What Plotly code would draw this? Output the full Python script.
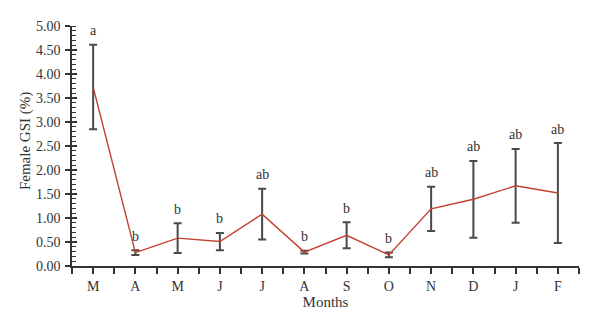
import plotly.graph_objects as go

# Monthly female gonadosomatic index (mean ± error) with significance groups
months = ["M", "A", "M", "J", "J", "A", "S", "O", "N", "D", "J", "F"]
gsi_mean = [3.73, 0.28, 0.58, 0.51, 1.08, 0.29, 0.64, 0.23, 1.19, 1.39, 1.67, 1.52]
gsi_err = [0.88, 0.05, 0.31, 0.18, 0.53, 0.03, 0.27, 0.05, 0.46, 0.80, 0.77, 1.04]
groups = ["a", "b", "b", "b", "ab", "b", "b", "b", "ab", "ab", "ab", "ab"]

x_pos = list(range(len(months)))
serif = "Liberation Serif"
ink = "#333333"

fig = go.Figure()

# error bars drawn on their own so they sit in dark grey
fig.add_trace(go.Scatter(
    x=x_pos, y=gsi_mean, mode="markers",
    marker=dict(size=1, color="rgba(0,0,0,0)"),
    error_y=dict(type="data", array=gsi_err, visible=True,
                 color="#4a4a4a", thickness=2, width=4),
    showlegend=False, hoverinfo="skip", cliponaxis=False,
))

# mean line
fig.add_trace(go.Scatter(
    x=x_pos, y=gsi_mean, mode="lines",
    line=dict(color="#c2412f", width=1.4),
    showlegend=False, cliponaxis=False,
))

# group letters above the upper whisker
for xi, m, e, g in zip(x_pos, gsi_mean, gsi_err, groups):
    fig.add_annotation(x=xi, y=m + e, text=g, showarrow=False,
                       yanchor="middle", yshift=14,
                       font=dict(family=serif, size=14, color=ink))

# y-axis title placed as rotated text left of the tick labels
fig.add_annotation(xref="paper", yref="paper", x=-0.093, y=0.52,
                   text="Female GSI (%)", textangle=-90, showarrow=False,
                   xanchor="center", yanchor="middle",
                   font=dict(family=serif, size=15, color=ink))

fig.update_layout(
    width=600, height=324,
    margin=dict(l=71.5, r=21, t=26, b=58),
    paper_bgcolor="white", plot_bgcolor="white",
    font=dict(family=serif, size=14, color=ink),
    xaxis=dict(
        range=[-0.5, 11.5], tickmode="array", tickvals=x_pos, ticktext=months,
        ticks="outside", ticklen=6, tickwidth=1.5, tickcolor=ink,
        minor=dict(ticks="outside", tick0=0.5, dtick=1, ticklen=6,
                   tickwidth=1.5, tickcolor=ink),
        showline=True, linecolor=ink, linewidth=1.5,
        showgrid=False, zeroline=False,
        title=dict(text="Months", standoff=4,
                   font=dict(family=serif, size=15, color=ink)),
        tickfont=dict(family=serif, size=14, color=ink),
    ),
    yaxis=dict(
        range=[0, 5], dtick=0.5, tick0=0, tickformat=".2f",
        ticks="outside", ticklen=5, tickwidth=1.5, tickcolor=ink,
        minor=dict(ticks="inside", dtick=0.1, ticklen=4, tickwidth=1,
                   tickcolor=ink),
        showline=True, linecolor=ink, linewidth=1.5,
        showgrid=False, zeroline=False, ticklabelstandoff=2,
        tickfont=dict(family=serif, size=14, color=ink),
    ),
    # inner half of the major y ticks
    yaxis2=dict(
        overlaying="y", side="left", range=[0, 5], dtick=0.5, tick0=0,
        ticks="inside", ticklen=5, tickwidth=1.5, tickcolor=ink,
        showticklabels=False, showline=False, showgrid=False, zeroline=False,
    ),
)

fig.add_trace(go.Scatter(x=[None], y=[None], yaxis="y2", showlegend=False,
                         hoverinfo="skip"))

fig.write_html("out.html")
